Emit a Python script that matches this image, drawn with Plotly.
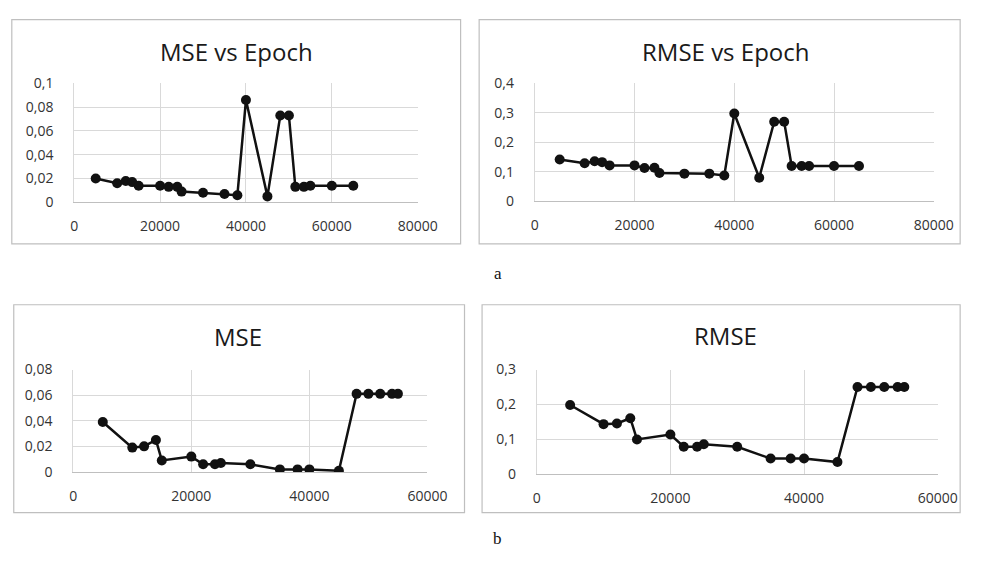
import plotly.graph_objects as go

# ---------------- data ----------------
epoch_a = [5000, 10000, 12000, 13500, 15000, 20000, 22000, 24000, 25000, 30000,
           35000, 38000, 40000, 45000, 48000, 50000, 51500, 53500, 55000, 60000, 65000]
mse_a = [0.020, 0.016, 0.018, 0.017, 0.014, 0.014, 0.013, 0.013, 0.009, 0.008,
         0.007, 0.006, 0.086, 0.005, 0.073, 0.073, 0.013, 0.013, 0.014, 0.014, 0.014]
rmse_a = [0.142, 0.129, 0.136, 0.133, 0.122, 0.122, 0.113, 0.114, 0.096, 0.094,
          0.094, 0.088, 0.298, 0.080, 0.270, 0.270, 0.120, 0.120, 0.120, 0.120, 0.120]

epoch_b = [5000, 10000, 12000, 14000, 15000, 20000, 22000, 24000, 25000, 30000,
           35000, 38000, 40000, 45000, 48000, 50000, 52000, 54000, 55000]
mse_b = [0.039, 0.019, 0.020, 0.025, 0.009, 0.012, 0.006, 0.006, 0.007, 0.006,
         0.002, 0.002, 0.002, 0.001, 0.061, 0.061, 0.061, 0.061, 0.061]
rmse_b = [0.198, 0.143, 0.145, 0.160, 0.099, 0.113, 0.078, 0.078, 0.085, 0.078,
          0.044, 0.044, 0.044, 0.034, 0.250, 0.250, 0.250, 0.250, 0.250]

x_ticks_a = [0, 20000, 40000, 60000, 80000]
x_ticks_b = [0, 20000, 40000, 60000]
y1_ticks = [0, 0.02, 0.04, 0.06, 0.08, 0.1]
y1_text = ["0", "0,02", "0,04", "0,06", "0,08", "0,1"]
y2_ticks = [0, 0.1, 0.2, 0.3, 0.4]
y2_text = ["0", "0,1", "0,2", "0,3", "0,4"]
y3_ticks = [0, 0.02, 0.04, 0.06, 0.08]
y3_text = ["0", "0,02", "0,04", "0,06", "0,08"]
y4_ticks = [0, 0.1, 0.2, 0.3]
y4_text = ["0", "0,1", "0,2", "0,3"]

titles = ["MSE vs Epoch", "RMSE vs Epoch", "MSE", "RMSE"]
panel_labels = ["a", "b"]

# ---------------- layout helpers ----------------
W, H = 986, 566
def px(x):
    return x / W
def py(y):
    return 1 - y / H

FONT = "Open Sans"
GRID = "#d9d9d9"

panels = [
    (epoch_a, mse_a, [0, 80000], [0, 0.1], x_ticks_a, y1_ticks, y1_text, (72, 424, 76, 199), (8, 468, 10, 242), (238, 43)),
    (epoch_a, rmse_a, [0, 80000], [0, 0.4], x_ticks_a, y2_ticks, y2_text, (544, 953, 76, 198), (487, 980, 10, 242), (740, 43)),
    (epoch_b, mse_b, [0, 60000], [0, 0.08], x_ticks_b, y3_ticks, y3_text, (71, 434, 372, 478), (10, 472, 305, 520), (240, 338)),
    (epoch_b, rmse_b, [0, 60000], [0, 0.3], x_ticks_b, y4_ticks, y4_text, (546, 957, 372, 480), (490, 980, 305, 520), (740, 337)),
]

fig = go.Figure()
shapes = []
annotations = []
layout_axes = {}

for i, (xs, ys, xr, yr, xt, yt, ytt, box, frame, tpos) in enumerate(panels):
    n = "" if i == 0 else str(i + 1)
    fig.add_trace(go.Scatter(
        x=xs, y=ys, mode="lines+markers",
        line=dict(color="#111111", width=2.5),
        marker=dict(color="#111111", size=10),
        xaxis="x" + n, yaxis="y" + n, showlegend=False,
    ))
    l, r, t, b = box
    layout_axes["xaxis" + n] = dict(
        domain=[px(l), px(r)], range=xr, anchor="y" + n,
        tickvals=xt, ticktext=[str(v) for v in xt],
        showgrid=True, gridcolor=GRID, gridwidth=1,
        showline=True, linecolor="#bfbfbf", linewidth=1,
        zeroline=False, ticks="", ticklabelstandoff=11,
        tickfont=dict(family=FONT, size=14, color="#333333"),
        fixedrange=True,
    )
    layout_axes["yaxis" + n] = dict(
        domain=[py(b), py(t)], range=yr, anchor="x" + n,
        tickvals=yt, ticktext=ytt,
        showgrid=True, gridcolor=GRID, gridwidth=1,
        showline=True, linecolor=GRID, linewidth=1,
        zeroline=False, ticks="", ticklabelstandoff=17,
        tickfont=dict(family=FONT, size=14, color="#333333"),
        fixedrange=True,
    )
    fl, fr, ft, fb = frame
    shapes.append(dict(type="rect", xref="paper", yref="paper",
                       x0=px(fl), x1=px(fr), y0=py(fb), y1=py(ft),
                       line=dict(color="#bfbfbf", width=1.2), layer="below"))
    annotations.append(dict(text=titles[i], x=px(tpos[0]), y=py(tpos[1]),
                            xref="paper", yref="paper", showarrow=False,
                            xanchor="center", yanchor="middle",
                            font=dict(family=FONT, size=24, color="#1a1a1a")))

annotations.append(dict(text=panel_labels[0], x=px(506), y=py(273), xref="paper", yref="paper",
                        showarrow=False, xanchor="center", yanchor="middle",
                        font=dict(family="Liberation Serif", size=17, color="#111111")))
annotations.append(dict(text=panel_labels[1], x=px(506), y=py(547), xref="paper", yref="paper",
                        showarrow=False, xanchor="center", yanchor="middle",
                        font=dict(family="Liberation Serif", size=17, color="#111111")))

fig.update_layout(
    width=W, height=H,
    margin=dict(l=0, r=0, t=0, b=0),
    paper_bgcolor="white", plot_bgcolor="white",
    shapes=shapes, annotations=annotations,
    **layout_axes,
)

fig.write_html(
    "out.html",
    config={"displayModeBar": False},
    post_script="document.body.style.margin='0';document.body.style.overflow='hidden';",
)
